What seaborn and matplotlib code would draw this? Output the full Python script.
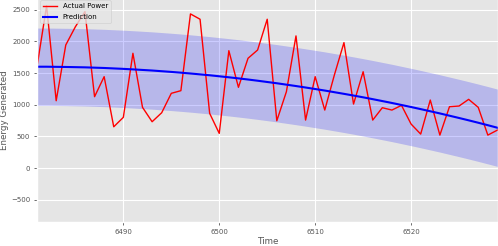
import numpy as np
import pandas as pd
import matplotlib
matplotlib.use('Agg')
import matplotlib.pyplot as plt
import seaborn as sns

# Time index of the hold-out period
time = list(range(6481, 6530))

# Actual power generated
actual_power = [1600, 2560, 1063, 1943, 2230, 2470, 1127, 1443, 652, 801,
                1812, 959, 732, 874, 1180, 1222, 2433, 2349, 864, 548,
                1853, 1275, 1733, 1864, 2349, 747, 1206, 2086, 758, 1443,
                916, 1469, 1980, 1011, 1521, 758, 953, 916, 990, 695,
                537, 1074, 521, 969, 980, 1085, 959, 521, 600]

# Model prediction
prediction = [1600, 1600, 1598, 1596, 1593, 1590, 1585, 1580, 1573, 1566,
              1558, 1549, 1540, 1529, 1518, 1506, 1493, 1479, 1465, 1449,
              1433, 1416, 1398, 1379, 1359, 1339, 1317, 1295, 1272, 1248,
              1224, 1198, 1172, 1145, 1117, 1088, 1058, 1028, 996, 964,
              931, 897, 863, 827, 791, 754, 716, 677, 637]

# Half width of the prediction interval
interval = 610

df = pd.DataFrame({'Time': time, 'actual': actual_power, 'pred': prediction})
df['lower'] = df['pred'] - interval
df['upper'] = df['pred'] + interval

plt.style.use('ggplot')
fig = plt.figure(figsize=(4.98, 2.46), dpi=100)
ax = fig.add_axes([37 / 498, 23.7 / 246, 461 / 498, 225.3 / 246])

ax.fill_between(df['Time'], df['lower'], df['upper'], color='blue', alpha=0.2, linewidth=0)
sns.lineplot(data=df, x='Time', y='actual', color='red', linewidth=1, label='Actual Power', ax=ax)
sns.lineplot(data=df, x='Time', y='pred', color='blue', linewidth=1.5, label='Prediction', ax=ax)

ax.set_xlim(6481, 6529.06)
ax.set_ylim(-855, 2700)
ax.set_xticks([6490, 6500, 6510, 6520])
ax.set_yticks([-500, 0, 500, 1000, 1500, 2000, 2500])
ax.tick_params(labelsize=5, colors='#555555', length=2.5, width=0.6, pad=2.5)
ax.set_xlabel('Time', fontsize=6.3, color='#555555', labelpad=1)
ax.set_ylabel('Energy Generated', fontsize=6.3, color='#555555', labelpad=1.5)

leg = ax.legend(loc='upper left', fontsize=5, handlelength=2.0,
                labelspacing=0.75, borderaxespad=0.5)

fig.savefig('out.png', dpi=100)
